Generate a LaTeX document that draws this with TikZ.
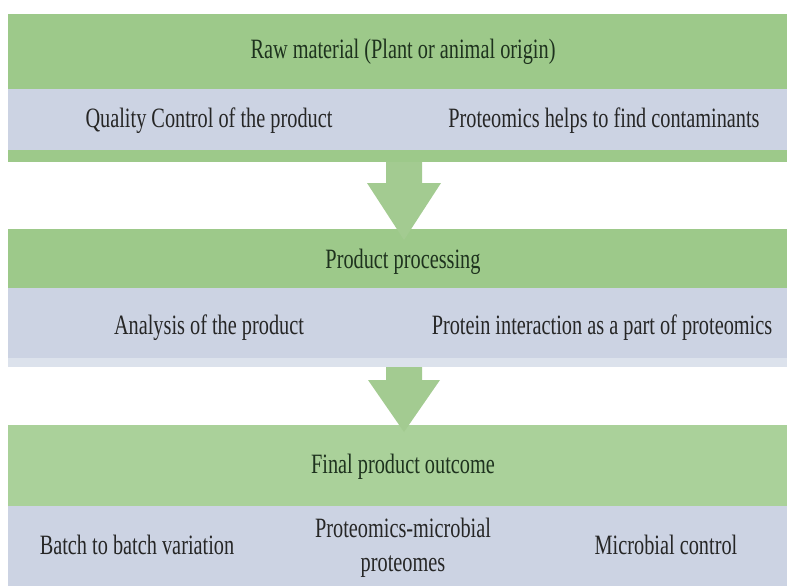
\documentclass[tikz,border=0pt]{standalone}
\usepackage{fontspec}
\setmainfont[FakeStretch=0.725]{Liberation Serif}
\definecolor{grn}{HTML}{9DC98A}
\definecolor{grnlt}{HTML}{AAD19A}
\definecolor{band}{HTML}{CCD3E3}
\definecolor{bandlt}{HTML}{DCE2EC}
\definecolor{arr}{HTML}{A3CB91}
\definecolor{txtg}{HTML}{1E321E}
\definecolor{txtd}{HTML}{262626}
\tikzset{
  bar/.style={draw=none, inner sep=0, outer sep=0, anchor=north west, minimum width=779pt},
  lblbase/.style={font=\fontsize{28}{34}\selectfont, text=txtd, inner sep=0, align=center},
  lbl/.style={lblbase, text height=19pt, text depth=6pt},
  glbl/.style={lbl, text=txtg},
  blockarrow/.style={fill=arr, draw=none}
}
\begin{document}
\begin{tikzpicture}[x=1pt, y=-1pt]
\useasboundingbox (0,0) rectangle (787,586);
% block 1
\node[bar, fill=grn,  minimum height=75pt] (b1g) at (8,14) {};
\node[bar, fill=band, minimum height=61pt] (b1b) at (8,89) {};
\node[bar, fill=grn,  minimum height=12pt] (b1s) at (8,150) {};
% block 2
\node[bar, fill=grn,  minimum height=59pt] (b2g) at (8,229) {};
\node[bar, fill=band, minimum height=70pt] (b2b) at (8,288) {};
\node[bar, fill=bandlt, minimum height=9pt] (b2s) at (8,358) {};
% block 3
\node[bar, fill=grnlt, minimum height=81pt] (b3g) at (8,425) {};
\node[bar, fill=band,  minimum height=80pt] (b3b) at (8,506) {};
% arrows
\fill[blockarrow] (386,162) -- (422,162) -- (422,183) -- (441,183) -- (404,240) -- (367,183) -- (386,183) -- cycle;
\fill[blockarrow] (386,367) -- (422,367) -- (422,380) -- (440,380) -- (404,432) -- (368,380) -- (386,380) -- cycle;
% texts
\node[glbl] (t1) at (403,52) {Raw material (Plant or animal origin)};
\node[lbl] (t1a) at (209,121) {Quality Control of the product};
\node[lbl] (t1b) at (604,121) {Proteomics helps to find contaminants};
\node[glbl] (t2) at (403,262) {Product processing};
\node[lbl] (t2a) at (209,328) {Analysis of the product};
\node[lbl] (t2b) at (602,328) {Protein interaction as a part of proteomics};
\node[glbl] (t3) at (403,467) {Final product outcome};
\node[lbl] (t3a) at (137,548) {Batch to batch variation};
\node[lblbase] (t3b) at (403,548) {Proteomics-microbial\\proteomes};
\node[lbl] (t3c) at (666,548) {Microbial control};
\end{tikzpicture}
\end{document}
